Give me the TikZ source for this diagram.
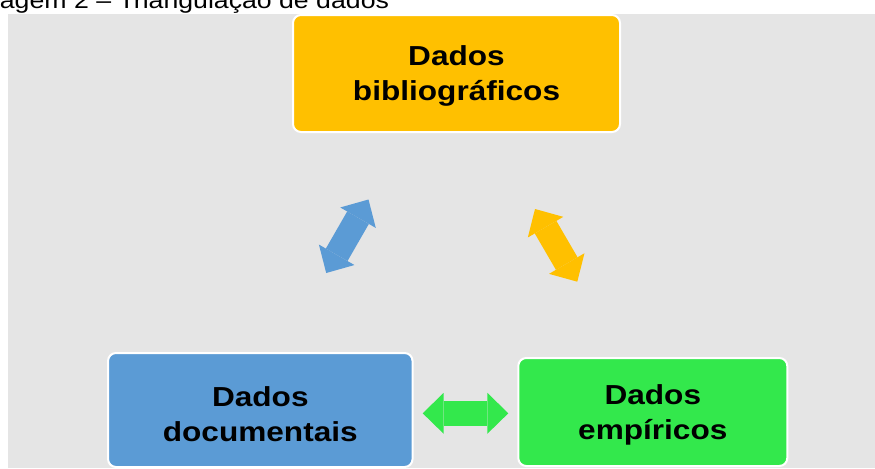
\documentclass[tikz,border=0pt]{standalone}
\usepackage{fontspec}
\setmainfont{Liberation Sans}[FakeStretch=1.15]
\usetikzlibrary{arrows.meta}
\definecolor{bgGray}{HTML}{E5E5E5}
\definecolor{boxOrange}{HTML}{FFC000}
\definecolor{boxBlue}{HTML}{5B9BD5}
\definecolor{boxGreen}{HTML}{33E84C}
\tikzset{
    databox/.style={draw=white,line width=1.5pt,rounded corners=6pt,align=center,
        font=\fontsize{20.6}{26.25}\selectfont\bfseries,inner sep=0pt,text depth=0pt},
    biarrow/.style={line width=18.75pt,
        {Triangle[length=15.75pt,width=30.75pt,line width=0pt]}-{Triangle[length=15.75pt,width=30.75pt,line width=0pt]}}
}
\begin{document}
\begin{tikzpicture}[x=0.75pt,y=-0.75pt]
        \useasboundingbox (0,0) rectangle (875,468);
        \fill[bgGray] (8,14) rectangle (875,468);
        \node[anchor=base west,inner sep=0pt,font=\fontsize{17.4}{20}\selectfont] (title) at (-30,8.5) {Imagem 2 – Triangulação de dados};
        \begin{scope}[every node/.style={databox}]
            \node[fill=boxOrange,minimum width=245.25pt,minimum height=87.75pt] (biblio) at (456.5,73.5) {Dados\\bibliográficos};
            \node[fill=boxBlue,minimum width=228.4pt,minimum height=85.5pt,text height=46.5pt] (docs) at (260.3,410) {Dados\\documentais};
            \node[fill=boxGreen,minimum width=201.75pt,minimum height=81pt] (empir) at (652.8,412) {Dados\\empíricos};
        \end{scope}
        \coordinate (b1) at (326.2,273);
        \coordinate (b2) at (368.5,199.5);
        \coordinate (o1) at (535,209);
        \coordinate (o2) at (577.3,281.7);
        \coordinate (g1) at (422.7,413.3);
        \coordinate (g2) at (508.3,413.3);
        \draw[biarrow,boxBlue] (b1) -- (b2);
        \draw[biarrow,boxOrange] (o1) -- (o2);
        \draw[biarrow,boxGreen] (g1) -- (g2);
\end{tikzpicture}
\end{document}
